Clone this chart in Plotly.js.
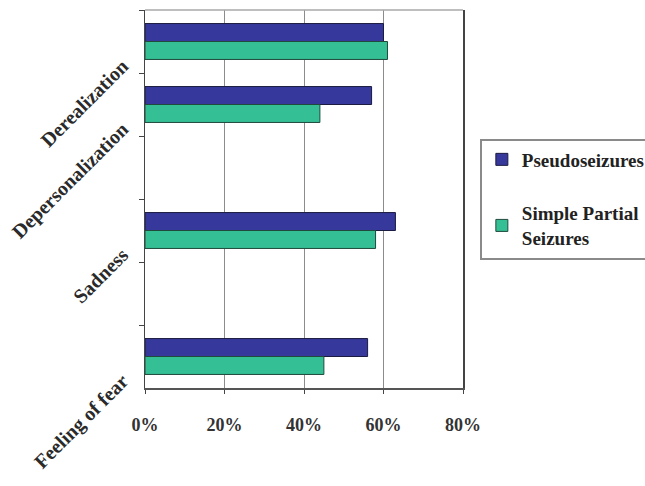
<!DOCTYPE html>
<html>
<head>
<meta charset="utf-8">
<script src="https://cdn.plot.ly/plotly-3.0.1.min.js"></script>
<style>
  html, body { margin: 0; padding: 0; background: #ffffff; }
  #chart { width: 645px; height: 486px; }
</style>
</head>
<body>
<div id="chart"></div>
<script>
// Symptom categories, top to bottom; the two zero-width entries are empty spacer rows
const categories = ['Derealization', 'Depersonalization', '\u200b', 'Sadness', '\u200b\u200b', 'Feeling of fear'];
// Share of patients reporting each symptom (%)
const pseudoseizures = [60, 57, null, 63, null, 56];
const simplePartialSeizures = [61, 44, null, 58, null, 45];
const seriesNames = ['Pseudoseizures', 'Simple Partial<br>Seizures'];
const xTickValues = [0, 20, 40, 60, 80];
const xTickLabels = ['0%', '20%', '40%', '60%', '80%'];

const serif = '"Liberation Serif", "Times New Roman", serif';

const traces = [
  {
    type: 'bar', orientation: 'h',
    name: seriesNames[0], legendgroup: 'a',
    y: categories, x: pseudoseizures,
    marker: { color: '#36389b', line: { color: '#1c1c40', width: 1 } },
    hoverinfo: 'x+y'
  },
  {
    type: 'bar', orientation: 'h',
    name: seriesNames[1], legendgroup: 'b',
    y: categories, x: simplePartialSeizures,
    marker: { color: '#35bf95', line: { color: '#1f4a3c', width: 1 } },
    hoverinfo: 'x+y'
  }
];

const layout = {
  width: 645, height: 486,
  paper_bgcolor: '#ffffff', plot_bgcolor: '#ffffff',
  margin: { l: 145, r: 182, t: 10, b: 98, pad: 0, autoexpand: false },
  barmode: 'group',
  bargap: 0.43,
  bargroupgap: 0,
  showlegend: true,
  legend: {
    x: 1.053, y: 0.66, xanchor: 'left', yanchor: 'top',
    bordercolor: '#8a8a8a', borderwidth: 2, bgcolor: '#ffffff',
    font: { family: serif, size: 19, color: '#222222', weight: 'bold' },
    tracegroupgap: 26,
    itemwidth: 30
  },
  // light frame line along the top of the plot area
  shapes: [
    { type: 'line', xref: 'paper', yref: 'paper', x0: 0, x1: 1, y0: 1, y1: 1,
      line: { color: '#a8a8a8', width: 1.5 } }
  ],
  xaxis: {
    range: [0, 80],
    tickvals: xTickValues, ticktext: xTickLabels,
    ticks: 'outside', ticklen: 4, tickcolor: '#444',
    showgrid: true, gridcolor: '#8c8c8c', gridwidth: 1,
    zeroline: false,
    showline: true, linecolor: '#555', linewidth: 1.5, mirror: false,
    ticklabelstandoff: 16,
    tickfont: { family: serif, size: 18, color: '#333333', weight: 'bold' },
    fixedrange: true
  },
  yaxis: {
    type: 'category',
    categoryorder: 'array', categoryarray: categories,
    autorange: 'reversed',
    tickson: 'boundaries',
    ticks: 'outside', ticklen: 5, tickcolor: '#444',
    showgrid: false, zeroline: false,
    showline: true, linecolor: '#444', linewidth: 1.5, mirror: true,
    tickangle: -45,
    ticklabelshift: -22,
    ticklabelstandoff: 17,
    tickfont: { family: serif, size: 20, color: '#2a2a2a', weight: 'bold' },
    fixedrange: true
  }
};

Plotly.newPlot('chart', traces, layout, { displayModeBar: false, staticPlot: true });
</script>
</body>
</html>
